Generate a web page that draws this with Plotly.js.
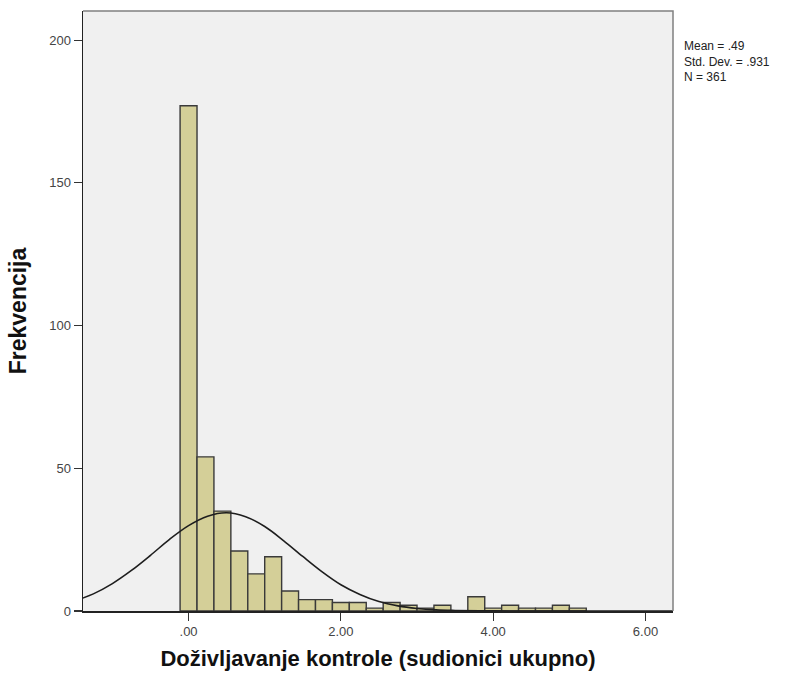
<!DOCTYPE html>
<html>
<head>
<meta charset="utf-8">
<script src="https://cdn.plot.ly/plotly-3.0.1.min.js"></script>
<style>
  html, body { margin: 0; padding: 0; background: #ffffff; }
  #chart { width: 795px; height: 677px; }
</style>
</head>
<body>
<div id="chart"></div>
<script>
// Histogram bins (centres, bin width 2/9) and frequencies
const binCenters = [0.0000, 0.2222, 0.4444, 0.6667, 0.8889, 1.1111, 1.3333, 1.5556,
                    1.7778, 2.0000, 2.2222, 2.4444, 2.6667, 2.8889, 3.1111, 3.3333,
                    3.5556, 3.7778, 4.0000, 4.2222, 4.4444, 4.6667, 4.8889, 5.1111];
const binWidth = 0.2222;
const frequencies = [177, 54, 35, 21, 13, 19, 7, 4,
                     4, 3, 3, 1, 3, 2, 1, 2,
                     0, 5, 1, 2, 1, 1, 2, 1];

// Normal curve (Mean = .49, Std. Dev. = .931, N = 361)
const curveX = [-1.5, -1.25, -1.0, -0.75, -0.5, -0.25, 0.0, 0.25, 0.5, 0.75,
                1.0, 1.25, 1.5, 1.75, 2.0, 2.25, 2.5, 2.75, 3.0, 3.25,
                3.5, 4.0, 4.5, 5.0, 5.5, 6.0, 6.5];
const curveY = [3.5, 6.0, 9.6, 14.2, 19.5, 25.1, 29.9, 33.2, 34.4, 33.0,
                29.6, 24.6, 19.1, 13.8, 9.2, 5.8, 3.3, 1.8, 0.9, 0.4,
                0.2, 0.03, 0, 0, 0, 0, 0];

// Axis ticks and labels
const xTickVals = [0, 2, 4, 6];
const xTickText = ['.00', '2.00', '4.00', '6.00'];
const yTickVals = [0, 50, 100, 150, 200];
const yTickText = ['0', '50', '100', '150', '200'];

const xTitle = 'Doživljavanje kontrole (sudionici ukupno)';
const yTitle = 'Frekvencija';
const statLines = ['Mean = .49', 'Std. Dev. = .931', 'N = 361'];

const FONT = 'Liberation Sans, Arial, sans-serif';

const traces = [
  {
    type: 'bar',
    x: binCenters,
    y: frequencies,
    width: binCenters.map(() => binWidth),
    marker: { color: '#D4CF98', line: { color: '#3a3a3a', width: 1.4 } },
    hoverinfo: 'x+y',
    showlegend: false
  },
  {
    type: 'scatter',
    mode: 'lines',
    x: curveX,
    y: curveY,
    line: { color: '#1e1e1e', width: 1.6, shape: 'spline', smoothing: 1 },
    hoverinfo: 'skip',
    showlegend: false
  }
];

const annotations = [{
  text: statLines.join('<br>'),
  xref: 'paper', yref: 'paper',
  x: 1, y: 1,
  xanchor: 'left', yanchor: 'top',
  xshift: 9, yshift: -26,
  showarrow: false,
  align: 'left',
  font: { family: FONT, size: 12, color: '#222' }
}];

const layout = {
  width: 795,
  height: 677,
  margin: { l: 83, r: 122, t: 11, b: 66, pad: 0 },
  paper_bgcolor: '#ffffff',
  plot_bgcolor: '#F0F0F0',
  bargap: 0,
  showlegend: false,
  font: { family: FONT, size: 13, color: '#333' },
  xaxis: {
    range: [-1.386, 6.361],
    tickvals: xTickVals,
    ticktext: xTickText,
    ticks: 'outside',
    ticklen: 8,
    tickwidth: 1.2,
    tickcolor: '#333',
    showline: true,
    linecolor: '#222',
    linewidth: 1.5,
    showgrid: false,
    zeroline: false,
    tickfont: { family: FONT, size: 13, color: '#444' },
    title: { text: xTitle, standoff: 12, font: { family: FONT, size: 22, color: '#111', weight: 'bold' } }
  },
  yaxis: {
    range: [0, 210.2],
    tickvals: yTickVals,
    ticktext: yTickText,
    ticks: 'outside',
    ticklen: 8,
    tickwidth: 1.2,
    tickcolor: '#333',
    showline: true,
    linecolor: '#222',
    linewidth: 1.5,
    showgrid: false,
    zeroline: false,
    tickfont: { family: FONT, size: 13, color: '#444' },
    title: { text: yTitle, standoff: 16, font: { family: FONT, size: 23, color: '#111', weight: 'bold' } }
  },
  shapes: [
    {
      type: 'path',
      xref: 'paper', yref: 'paper',
      path: 'M 0 1 L 1 1 L 1 0',
      line: { color: '#808080', width: 1.5 },
      layer: 'above'
    }
  ],
  annotations: annotations
};

Plotly.newPlot('chart', traces, layout, { displayModeBar: false, staticPlot: true });
</script>
</body>
</html>
